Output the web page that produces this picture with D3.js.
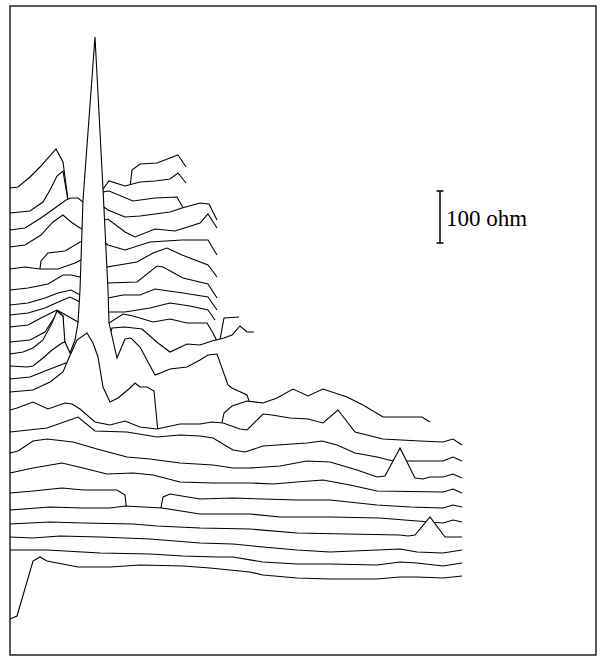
<!DOCTYPE html>
<html>
<head>
<meta charset="utf-8">
<script src="https://cdn.jsdelivr.net/npm/d3@7"></script>
<style>
  html, body { margin: 0; padding: 0; background: #fff; }
  svg { display: block; }
</style>
</head>
<body>
<div id="chart"></div>
<script>
// Stacked resistance profiles, back (top) to front (bottom).
// Each point: [distance along profile, stacked level]
const p01 = [[0,467],[8,468],[20,478],[30,488],[46,506],[53,493],[58,455],[62,430],[116,430],[118,450],[122,485],[130,491],[147,492],[160,497],[168,500],[176,488]];
const p02 = [[0,442],[20,444],[33,453],[40,465],[47,479],[53,484],[58,454],[62,430],[90,430],[93,466],[99,474],[115,469],[130,473],[145,474],[160,476],[168,482],[176,472]];
const p03 = [[0,425],[15,427],[31,437],[45,447],[56,455],[61,457],[68,457],[73,453],[80,440],[90,440],[93,463],[99,464],[123,454],[145,457],[167,458],[176,442]];
const p04 = [[0,408],[15,410],[31,420],[43,433],[53,440],[61,433],[70,427],[73,426],[80,420],[90,420],[94,448],[98,445],[115,438],[130,439],[145,441],[160,443],[172,447],[190,452],[199,451],[207,435]];
const p05 = [[0,370],[28,372],[31,394],[38,402],[55,404],[70,413],[73,414],[80,405],[90,405],[94.5,435],[98,436],[115,423],[125,418],[145,426],[165,424],[190,432],[198,441],[207,427]];
const p06 = [[0,386],[15,388],[30,386],[48,386],[65,392],[71,395],[80,385],[90,385],[95.5,412],[98,410],[115,405],[140,413],[172,415],[198,415],[207,400]];
const p07 = [[0,365],[18,367],[38,371],[53,380],[61,380],[70,378],[80,370],[90,370],[97,388],[127,393],[143,402],[157,407],[172,400],[198,390],[207,378]];
const p08 = [[0,350],[18,352],[35,357],[48,362],[61,365],[70,360],[80,355],[90,355],[97.5,372],[127,373],[147,389],[153,388],[173,377],[198,371],[207,357]];
const p09 = [[0,340],[18,342],[35,347],[46,352],[60,358],[70,353],[80,345],[90,345],[98,357],[113,360],[130,360],[145,366],[173,362],[198,358],[207,345]];
const p10 = [[0,328],[18,330],[31,337],[45,344],[47,345],[54,341],[68,333],[80,325],[90,325],[98.5,343],[115,343],[140,347],[160,352],[180,349],[198,345],[205,335]];
const p11 = [[0,313],[20,315],[35,323],[44,337],[48,344],[53,339],[54,310],[65,295],[90,295],[99,332],[113,341],[123,339],[143,333],[160,336],[177,332],[197,332],[203,322],[209,310],[214,337],[229,338]];
const p12 = [[0,301],[13,303],[23,307],[33,315],[42,332],[47,344],[53,339],[55,312],[61,299],[65,290],[90,290],[102,327],[115,328],[132,326],[148,312],[160,303],[177,311],[190,310],[202,314],[214,317],[222,320],[230,329],[237,323],[244,323]];
const p13 = [[0,289],[17,288],[23,289],[33,297],[42,305],[52,312],[55,313],[60,302],[65,315],[68,332],[70,365],[73,455],[85,618],[93,466],[98,365],[99,332],[107,297],[115,316],[121,317],[130,308],[145,280],[153,283],[160,286],[177,288],[190,295],[198,300],[207,301],[218,270],[222,267],[237,260],[242,245],[248,240]];
const p14 = [[0,276],[20,278],[35,284],[48,289],[56,292],[62,285],[70,250],[140,243],[146,215],[240,210]];
const p15 = [[0,263],[23,265],[40,273],[53,283],[58,295],[67,315],[77,322],[83,312],[88,298],[93,268],[100,253],[108,257],[120,267],[125,272],[130,268],[137,268],[144,264],[148,223],[210,223],[214,242],[222,249],[237,254],[253,252],[267,257],[283,266],[298,259],[313,266],[337,258],[353,250],[373,238],[412,238],[420,233]];
const p16 = [[0,245],[7,247],[23,253],[38,246],[55,252],[62,251],[70,246],[85,233],[100,230],[115,234],[130,228],[147,226],[170,231],[190,231],[202,233],[213,232],[230,226],[237,225],[253,241],[262,240],[280,237],[298,236],[313,232],[328,245],[345,223],[357,220],[373,216],[410,214],[433,213],[443,216],[452,210]];
const p17 = [[0,223],[37,227],[68,238],[85,224],[117,223],[147,218],[170,220],[190,219],[203,217],[223,205],[235,203],[253,209],[297,212],[312,214],[327,210],[345,202],[367,198],[383,194],[433,194],[443,198],[452,194]];
const p18 = [[0,202],[8,204],[23,214],[37,216],[63,213],[87,206],[117,198],[140,196],[170,192],[203,190],[223,187],[240,187],[270,189],[297,194],[320,193],[347,185],[367,178],[375,179],[390,207],[405,177],[413,176],[420,178],[433,178],[443,181],[452,177]];
const p19 = [[0,182],[23,187],[52,192],[73,187],[97,181],[123,182],[143,180],[170,173],[203,172],[240,172],[263,171],[287,173],[313,175],[340,170],[367,164],[433,163],[443,166],[452,162]];
const p20 = [[0,162],[23,164],[52,167],[73,165],[107,165],[115,160],[117,142],[150,142],[153,158],[160,161],[190,156],[223,157],[253,156],[287,155],[320,155],[367,150],[400,148],[433,147],[443,150],[452,148]];
const p21 = [[0,145],[40,148],[73,147],[100,147],[115,149],[152,147],[190,141],[240,141],[270,138],[320,138],[370,137],[407,134],[433,132],[443,135],[452,133]];
const p22 = [[0,131],[40,133],[73,132],[123,131],[147,129],[190,127],[240,126],[287,122],[337,121],[390,120],[398,119],[405,120],[420,138],[435,118],[452,118]];
const p23 = [[0,118],[23,117],[50,119],[90,118],[140,116],[190,112],[223,111],[253,108],[287,105],[320,103],[367,105],[390,106],[407,103],[433,102],[452,105]];
const p24 = [[0,105],[37,105],[90,102],[140,101],[173,99],[207,98],[223,98],[253,93],[287,91],[320,91],[367,90],[390,93],[407,92],[433,89],[452,92]];
const p25 = [[0,36],[7,39],[23,94],[30,98],[37,94],[68,88],[100,88],[130,90],[173,89],[200,87],[240,83],[253,80],[287,77],[320,76],[367,76],[390,78],[407,78],[433,77],[452,79]];

const profiles = [p01, p02, p03, p04, p05, p06, p07, p08, p09, p10, p11, p12, p13,
                  p14, p15, p16, p17, p18, p19, p20, p21, p22, p23, p24, p25];

// scale bar
const scaleBarOhm = 100;
const unitsPerOhm = 0.52;
const scaleBarLabel = "100 ohm";
const scaleBarPos = [430, 412];   // [distance, level] of the bar foot

const width = 606, height = 664;

const svg = d3.select("#chart").append("svg")
    .attr("width", width)
    .attr("height", height);

const x = d3.scaleLinear().domain([0, 452]).range([10, 462]);
const y = d3.scaleLinear().domain([0, 645]).range([655, 10]);

const area = d3.area()
    .x(d => x(d[0]))
    .y0(y(0))
    .y1(d => y(d[1]));

const line = d3.line()
    .x(d => x(d[0]))
    .y(d => y(d[1]));

// hidden line removal: paint back to front, each profile masks what lies below it
const gProfiles = svg.append("g").attr("class", "profiles");
profiles.forEach(p => {
    gProfiles.append("path")
        .attr("d", area(p))
        .attr("fill", "#fff")
        .attr("stroke", "none");
    gProfiles.append("path")
        .attr("d", line(p))
        .attr("fill", "none")
        .attr("stroke", "#000")
        .attr("stroke-width", 1.1);
});

// frame
svg.append("rect")
    .attr("x", 10)
    .attr("y", 6)
    .attr("width", 586)
    .attr("height", 649)
    .attr("fill", "none")
    .attr("stroke", "#000")
    .attr("stroke-width", 1.3);

// 100 ohm bar
const barX = x(scaleBarPos[0]);
const barY0 = y(scaleBarPos[1]);
const barY1 = y(scaleBarPos[1] + scaleBarOhm * unitsPerOhm);
const gBar = svg.append("g").attr("class", "scale-bar")
    .attr("stroke", "#000")
    .attr("stroke-width", 1.5);
gBar.append("line").attr("x1", barX).attr("x2", barX).attr("y1", barY0).attr("y2", barY1);
gBar.append("line").attr("x1", barX - 3.5).attr("x2", barX + 3.5).attr("y1", barY0).attr("y2", barY0);
gBar.append("line").attr("x1", barX - 3.5).attr("x2", barX + 3.5).attr("y1", barY1).attr("y2", barY1);

svg.append("text")
    .attr("x", barX + 6)
    .attr("y", (barY0 + barY1) / 2 + 8.5)
    .attr("font-family", "'Liberation Serif', 'Times New Roman', serif")
    .attr("font-size", 23)
    .attr("fill", "#000")
    .text(scaleBarLabel);
</script>
</body>
</html>
